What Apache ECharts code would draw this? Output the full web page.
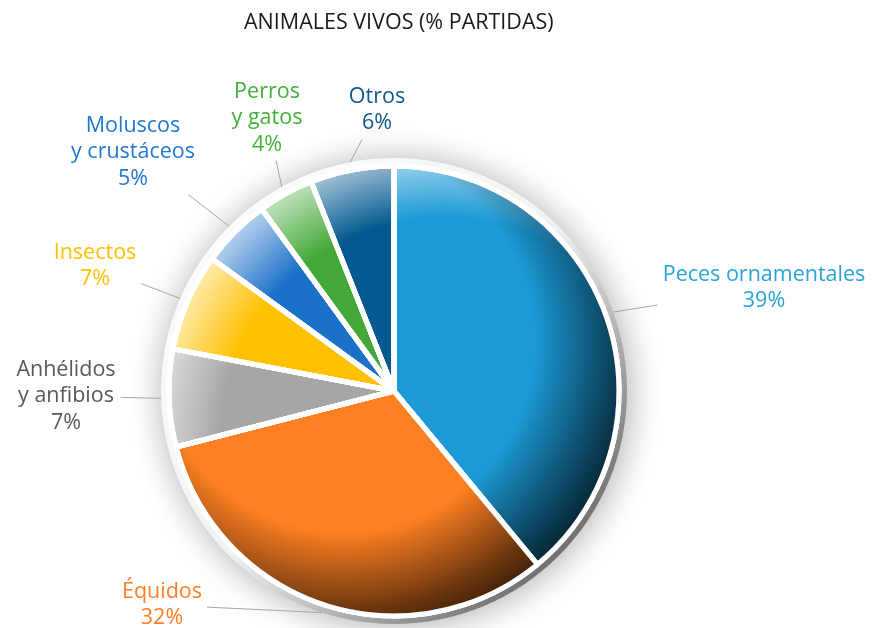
<!DOCTYPE html>
<html>
<head>
<meta charset="utf-8">
<script src="https://cdn.jsdelivr.net/npm/echarts@6/dist/echarts.min.js"></script>
<style>
    html, body {margin: 0; padding: 0; background: #fff}
    #main {width: 872px; height: 628px}
</style>
</head>
<body>
<div id="main"></div>
<script>
    var categories = ['Peces ornamentales', 'Équidos', 'Anhélidos\ny anfibios', 'Insectos', 'Moluscos\ny crustáceos', 'Perros\ny gatos', 'Otros'];
    var values = [39, 32, 7, 7, 5, 4, 6];
    var sliceColors = ['#1b9ad6', '#ff8022', '#a6a6a6', '#ffc000', '#1b70c8', '#43a838', '#045a90'];
    var labelColors = ['#2aa2dc', '#ff7f27', '#595959', '#ffc000', '#1f78d1', '#43b03a', '#0e5a8a'];
    // label centres (layout only)
    var labelPos = [[764, 288], [162, 605], [66, 396], [95, 266], [133, 152], [267, 118], [377, 110]];
    // which slices get the top-left highlight / bottom-right shade
    var lit = [1, 0, 1, 1, 1, 1, 1];
    var shaded = [1, 1, 0, 0, 0, 0, 0];

    var cx = 394, cy = 391, r = 225;
    var font = '"Open Sans", "Noto Sans", sans-serif';

    var total = values.reduce(function (a, b) { return a + b; }, 0);
    var midFrac = [], acc = 0;
    values.forEach(function (v) {
        midFrac.push((acc + v / 2) / total);
        acc += v;
    });

    function radial(dx, dy, rr, rgb, stops) {
        return {
            type: 'radial', x: cx + dx, y: cy + dy, r: rr, global: true,
            colorStops: stops.map(function (s) {
                return {offset: s[0], color: 'rgba(' + rgb + ',' + s[1] + ')'};
            })
        };
    }

    function overlay(color, mask) {
        return {
            type: 'pie', center: [cx, cy], radius: r, startAngle: 90, clockwise: true,
            silent: true, animation: false, z: 3,
            label: {show: false}, labelLine: {show: false},
            emphasis: {disabled: true},
            itemStyle: {borderColor: '#fff', borderWidth: 5},
            data: values.map(function (v, i) {
                return {name: categories[i], value: v, itemStyle: {color: mask[i] ? color : 'rgba(0,0,0,0)'}};
            })
        };
    }

    var chart = echarts.init(document.getElementById('main'));
    chart.setOption({
        backgroundColor: '#fff',
        title: {
            text: 'ANIMALES VIVOS (% PARTIDAS)', left: 239, top: 7,
            textStyle: {fontFamily: font, fontSize: 21.5, fontWeight: 'normal', color: '#1a1a1a'}
        },
        series: [
            {
                type: 'pie', center: [cx, cy], radius: r + 8, silent: true, animation: false, z: 1,
                label: {show: false}, labelLine: {show: false}, emphasis: {disabled: true},
                itemStyle: {
                    color: {
                        type: 'linear', x: cx - r, y: cy - r, x2: cx + r, y2: cy + r, global: true,
                        colorStops: [{offset: 0, color: '#ffffff'}, {offset: 0.5, color: '#f2f2f2'},
                            {offset: 0.8, color: '#8a8a8a'}, {offset: 1, color: '#3c3c3c'}]
                    },
                    shadowBlur: 34, shadowColor: 'rgba(0,0,0,0.32)', shadowOffsetX: 2, shadowOffsetY: 2
                },
                data: [{value: 1}]
            },
            {
                type: 'pie', center: [cx, cy], radius: r, startAngle: 90, clockwise: true,
                animation: false, z: 2,
                itemStyle: {borderColor: '#fff', borderWidth: 5},
                label: {
                    show: true, position: 'outside', fontFamily: font, fontSize: 21.5, lineHeight: 26.5,
                    formatter: function (p) { return p.name + '\n' + p.value + '%'; }
                },
                labelLine: {show: true, length: 12, length2: 8, lineStyle: {color: '#a6a6a6', width: 1}},
                labelLayout: function (p) {
                    var i = p.dataIndex, pos = labelPos[i];
                    var a = midFrac[i] * 2 * Math.PI;
                    var sx = cx + (r + 8) * Math.sin(a), sy = cy - (r + 8) * Math.cos(a);
                    var hw = p.labelRect.width / 2 + 5, hh = p.labelRect.height / 2 + 3;
                    var dx = sx - pos[0], dy = sy - pos[1];
                    var u = Math.min(dx ? hw / Math.abs(dx) : Infinity, dy ? hh / Math.abs(dy) : Infinity);
                    return {
                        x: pos[0], y: pos[1], align: 'center', verticalAlign: 'middle',
                        labelLinePoints: [[sx, sy], [pos[0] + u * dx, pos[1] + u * dy]]
                    };
                },
                data: values.map(function (v, i) {
                    return {
                        name: categories[i], value: v,
                        itemStyle: {color: sliceColors[i]},
                        label: {color: labelColors[i]}
                    };
                })
            },
            overlay(radial(50, 50, 302, '255,255,255', [[0, 0], [0.74, 0], [0.95, 0.6], [1, 0.7]]), lit),
            overlay(radial(-50, -50, 302, '0,0,0', [[0, 0], [0.63, 0], [0.9, 0.6], [1, 0.78]]), shaded)
        ]
    });
</script>
</body>
</html>
